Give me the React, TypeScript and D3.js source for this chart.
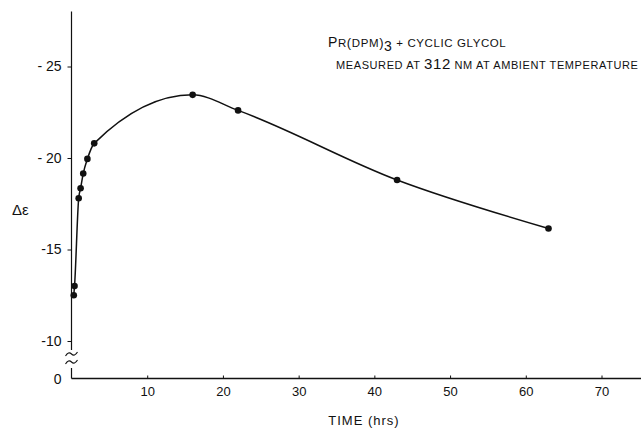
import { useEffect, useRef } from 'react';
import * as d3 from 'd3';

// time in hours, delta-epsilon readings
const times = [0.3, 0.4, 0.95, 1.2, 1.55, 2.1, 3.0, 16, 22, 43, 63];
const deltaEps = [-12.5, -13.0, -17.8, -18.35, -19.15, -19.95, -20.8, -23.45, -22.6, -18.8, -16.15];

const xTicks = [10, 20, 30, 40, 50, 60, 70];
const yTicks = [-25, -20, -15, -10];
const yTickLabels = ['- 25', '- 20', '-15', '-10'];

const titleLine2 = 'MEASURED AT 312 NM AT AMBIENT TEMPERATURE';

const W = 644;
const H = 428;

export default function App() {
  const svgRef = useRef<SVGSVGElement | null>(null);

  useEffect(() => {
    if (!svgRef.current) return;
    const svg = d3.select(svgRef.current);
    svg.selectAll('*').remove();

    const font = '"Liberation Sans", Arial, sans-serif';
    const x = d3.scaleLinear().domain([0, 70]).range([71.5, 601.5]);
    const y = d3.scaleLinear().domain([-25, -10]).range([66.5, 341]);
    const baseY = 378.5;
    const ink = '#111';

    // x axis
    const xAxis = d3
      .axisBottom(x)
      .tickValues(xTicks)
      .tickSize(-3)
      .tickSizeOuter(0)
      .tickPadding(8)
      .tickFormat(d => String(d));
    const gx = svg.append('g').attr('transform', `translate(0,${baseY})`).call(xAxis);
    gx.select('.domain').remove();
    gx.append('line')
      .attr('x1', x(0))
      .attr('x2', 641)
      .attr('stroke', ink)
      .attr('stroke-width', 1.3);
    gx.selectAll('.tick line').attr('stroke', ink);
    gx.selectAll('.tick text')
      .attr('fill', ink)
      .attr('font-family', font)
      .attr('font-size', 13);

    // y axis (broken below -10)
    const yAxis = d3
      .axisLeft(y)
      .tickValues(yTicks)
      .tickSize(4)
      .tickSizeOuter(0)
      .tickPadding(6)
      .tickFormat((_, i) => yTickLabels[i]);
    const gy = svg.append('g').attr('transform', `translate(${x(0)},0)`).call(yAxis);
    gy.select('.domain').remove();
    gy.append('line')
      .attr('y1', y(-28))
      .attr('y2', 350)
      .attr('stroke', ink)
      .attr('stroke-width', 1.2);
    gy.append('line')
      .attr('y1', 368)
      .attr('y2', baseY)
      .attr('stroke', ink)
      .attr('stroke-width', 1.2);
    gy.selectAll('.tick line').attr('stroke', ink);
    gy.selectAll('.tick text')
      .attr('fill', ink)
      .attr('font-family', font)
      .attr('font-size', 14);

    // break squiggles
    [354, 362].forEach(by => {
      gy.append('path')
        .attr('d', `M-6,${by + 2} q3,-5 6,-2 t6,-2`)
        .attr('fill', 'none')
        .attr('stroke', ink)
        .attr('stroke-width', 1.1);
    });

    svg.append('text')
      .attr('x', x(0) - 10)
      .attr('y', baseY + 5)
      .attr('text-anchor', 'end')
      .attr('font-family', font)
      .attr('font-size', 14)
      .attr('fill', ink)
      .text('0');

    // curve
    const pts = times.map((t, i) => [t, deltaEps[i]] as [number, number]);
    const line = d3
      .line<[number, number]>()
      .x(d => x(d[0]))
      .y(d => y(d[1]))
      .curve(d3.curveMonotoneX);
    svg.append('path')
      .attr('d', line(pts) ?? '')
      .attr('fill', 'none')
      .attr('stroke', ink)
      .attr('stroke-width', 1.5);

    svg.selectAll('circle.pt')
      .data(pts)
      .join('circle')
      .attr('class', 'pt')
      .attr('cx', d => x(d[0]))
      .attr('cy', d => y(d[1]))
      .attr('r', 3.3)
      .attr('fill', ink);

    // labels
    svg.append('text')
      .attr('x', 12)
      .attr('y', 215)
      .attr('font-family', font)
      .attr('font-size', 15)
      .attr('fill', ink)
      .text('Δε');

    svg.append('text')
      .attr('x', 364)
      .attr('y', 425)
      .attr('text-anchor', 'middle')
      .attr('font-family', font)
      .attr('font-size', 13)
      .attr('letter-spacing', 1)
      .attr('fill', ink)
      .text('TIME (hrs)');

    const t1 = svg.append('text')
      .attr('x', 328)
      .attr('y', 47)
      .attr('font-family', font)
      .attr('font-size', 11.5)
      .attr('letter-spacing', 0.6)
      .attr('fill', ink);
    t1.append('tspan').attr('font-size', 14).text('P');
    t1.append('tspan').text('R');
    t1.append('tspan').attr('font-size', 13).text('(');
    t1.append('tspan').text('DPM');
    t1.append('tspan').attr('font-size', 13).text(')');
    t1.append('tspan').attr('font-size', 14).attr('dy', 4).text('3');
    t1.append('tspan').attr('dy', -4).text(' + CYCLIC GLYCOL');

    const t2 = svg.append('text')
      .attr('x', 336)
      .attr('y', 69)
      .attr('font-family', font)
      .attr('font-size', 11)
      .attr('letter-spacing', 0.6)
      .attr('fill', ink);
    const parts = titleLine2.split('312');
    t2.append('tspan').text(parts[0]);
    t2.append('tspan').attr('font-size', 15).text('312');
    t2.append('tspan').text(parts[1]);
  }, []);

  return (
    <svg
      ref={svgRef}
      width={W}
      height={H}
      style={{ position: 'absolute', left: 0, top: 0, background: '#fff' }}
    />
  );
}
